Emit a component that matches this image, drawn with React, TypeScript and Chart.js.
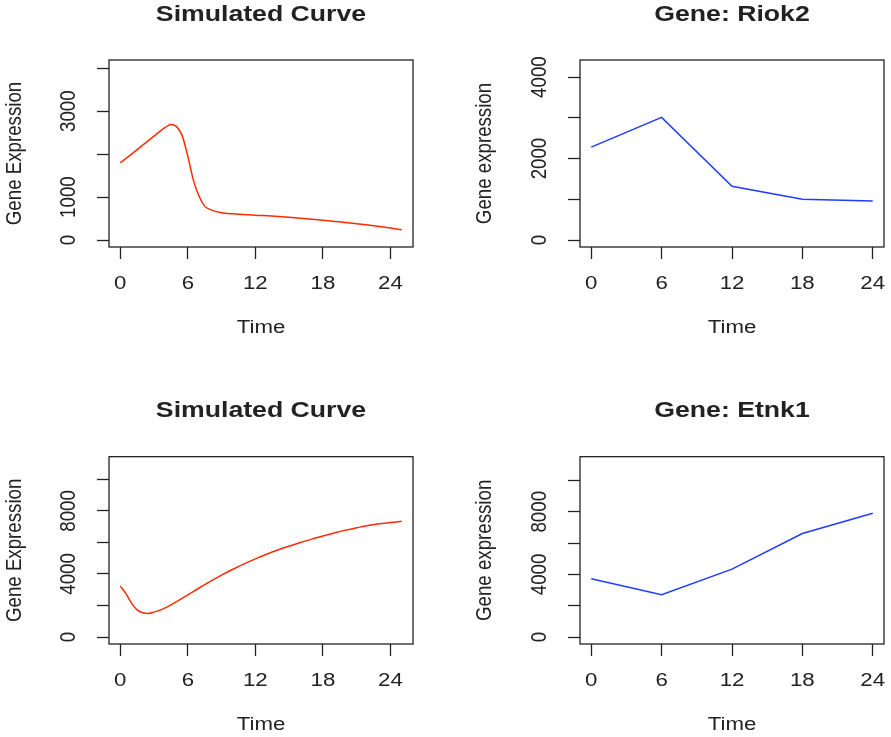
import React, { useEffect, useRef } from 'react';
import { Chart, registerables } from 'chart.js';

Chart.register(...registerables);

// ---------- data ----------
const simTime1 = [0, 1, 2, 3, 4, 4.5, 5, 5.5, 6, 6.5, 7, 7.5, 8, 9, 10, 12, 14, 16, 18, 20, 22, 24, 25];
const simExpr1 = [1800, 2000, 2210, 2420, 2620, 2690, 2640, 2430, 1950, 1390, 1020, 790, 710, 635, 610, 580, 550, 510, 460, 410, 350, 280, 240];

const riok2Time = [0, 6, 12, 18, 24];
const riok2Expr = [2280, 3010, 1320, 1000, 960];

const simTime2 = [0, 0.5, 1, 1.5, 2, 2.5, 3, 3.5, 4, 4.5, 5, 6, 7, 8, 9, 10, 11, 12, 13, 14, 15, 16, 17, 18, 19, 20, 21, 22, 23, 24, 25];
const simExpr2 = [3230, 2750, 2150, 1720, 1540, 1500, 1580, 1690, 1850, 2040, 2250, 2680, 3110, 3530, 3930, 4300, 4640, 4960, 5250, 5520, 5760, 5990, 6210, 6410, 6600, 6780, 6930, 7070, 7180, 7270, 7340];

const etnk1Time = [0, 6, 12, 18, 24];
const etnk1Expr = [3720, 2700, 4340, 6615, 7910];

const xTickValues = [0, 6, 12, 18, 24];
const xTickLabels = ['0', '6', '12', '18', '24'];

const yTicksSim1 = [0, 1000, 2000, 3000, 4000];
const yLabelsSim1 = ['0', '1000', '', '3000', ''];
const yTicksRiok2 = [0, 1000, 2000, 3000, 4000];
const yLabelsRiok2 = ['0', '', '2000', '', '4000'];
const yTicksSim2 = [0, 2000, 4000, 6000, 8000, 10000];
const yLabelsSim2 = ['0', '', '4000', '', '8000', ''];
const yTicksEtnk1 = [0, 2000, 4000, 6000, 8000, 10000];
const yLabelsEtnk1 = ['0', '', '4000', '', '8000', ''];

// ---------- style ----------
const FONT = '"Liberation Sans", Arial, Helvetica, sans-serif';
const BASE = 18.7;
const TITLE = 22.4;
const INK = '#222222';
const RED = '#ff2a00';
const BLUE = '#1f3cff';
const TEXT_STRETCH_X = 1.19; // the reference's glyphs are wider than tall

// Widen every glyph horizontally (in device space) about its anchor point.
function stretchCanvasText(ctx: any, sx: number) {
  const orig = ctx.fillText;
  ctx.fillText = function (text: string, x: number, y: number, maxWidth?: number) {
    const m = ctx.getTransform();
    const px = m.a * x + m.c * y + m.e;
    const py = m.b * x + m.d * y + m.f;
    ctx.save();
    const s = new DOMMatrix().translate(px, py).scale(sx, 1).translate(-px, -py).multiply(m);
    ctx.setTransform(s);
    if (maxWidth === undefined) orig.call(ctx, text, x, y);
    else orig.call(ctx, text, x, y, maxWidth);
    ctx.restore();
  };
}

const boxPlugin = {
  id: 'rbox',
  afterDraw(chart: any) {
    const { ctx, chartArea: a } = chart;
    ctx.save();
    ctx.strokeStyle = INK;
    ctx.lineWidth = 1.3;
    ctx.strokeRect(a.left, a.top, a.right - a.left, a.bottom - a.top);
    ctx.restore();
  },
};

type Spec = {
  left: number; top: number; w: number; h: number;
  title: string; yTitle: string;
  xs: number[]; ys: number[]; color: string; smooth: boolean;
  xMin: number; xMax: number; yMin: number; yMax: number;
  yTicks: number[]; yLabels: string[];
  yAxisWidth: number; padRight: number; xAxisHeight: number;
  titlePadTop: number; titlePadBottom: number;
  xTitlePadBottom: number; yTitlePadTop: number;
};

function Panel({ spec }: { spec: Spec }) {
  const ref = useRef<HTMLCanvasElement>(null);
  useEffect(() => {
    const canvas = ref.current as HTMLCanvasElement;
    const ctx = canvas.getContext('2d') as CanvasRenderingContext2D;
    stretchCanvasText(ctx, TEXT_STRETCH_X);
    const grid = {
      drawOnChartArea: false,
      drawTicks: true,
      tickLength: 12,
      tickColor: INK,
      tickWidth: 1.3,
    };
    const chart = new Chart(canvas, {
      type: 'line',
      data: {
        datasets: [
          {
            data: spec.xs.map((x, i) => ({ x, y: spec.ys[i] })),
            borderColor: spec.color,
            borderWidth: 1.5,
            pointRadius: 0,
            fill: false,
            tension: spec.smooth ? 0.4 : 0,
            cubicInterpolationMode: spec.smooth ? 'monotone' : 'default',
          } as any,
        ],
      },
      options: {
        responsive: false,
        animation: false,
        devicePixelRatio: 1,
        layout: { padding: { top: 0, left: 0, right: spec.padRight, bottom: 0 } },
        plugins: {
          legend: { display: false },
          tooltip: { enabled: false },
          title: {
            display: true,
            text: spec.title,
            fullSize: false,
            color: INK,
            font: { family: FONT, size: TITLE, weight: 'bold', lineHeight: 1.2 },
            padding: { top: spec.titlePadTop, bottom: spec.titlePadBottom },
          },
        },
        scales: {
          x: {
            type: 'linear',
            min: spec.xMin,
            max: spec.xMax,
            afterBuildTicks: (s: any) => {
              s.ticks = xTickValues.map((v) => ({ value: v }));
            },
            afterFit: (s: any) => {
              s.height = spec.xAxisHeight;
              s.paddingLeft = 0;
              s.paddingRight = 0;
            },
            ticks: {
              autoSkip: false,
              minRotation: 0,
              maxRotation: 0,
              padding: 13.6,
              color: INK,
              font: { family: FONT, size: BASE },
              callback: (_v: any, i: number) => xTickLabels[i],
            },
            grid,
            border: { display: false },
            title: {
              display: true,
              text: 'Time',
              color: INK,
              font: { family: FONT, size: BASE },
              padding: { top: 0, bottom: spec.xTitlePadBottom },
            },
          },
          y: {
            type: 'linear',
            min: spec.yMin,
            max: spec.yMax,
            afterBuildTicks: (s: any) => {
              s.ticks = spec.yTicks.map((v) => ({ value: v }));
            },
            afterFit: (s: any) => {
              s.width = spec.yAxisWidth;
              s.paddingTop = 0;
              s.paddingBottom = 0;
            },
            ticks: {
              autoSkip: false,
              minRotation: 90,
              maxRotation: 90,
              crossAlign: 'center',
              padding: 7.2,
              color: INK,
              font: { family: FONT, size: BASE },
              callback: (_v: any, i: number) => spec.yLabels[i],
            },
            grid,
            border: { display: false },
            title: {
              display: true,
              text: spec.yTitle,
              color: INK,
              font: { family: FONT, size: BASE },
              padding: { top: spec.yTitlePadTop, bottom: 0 },
            },
          },
        },
      } as any,
      plugins: [boxPlugin],
    });
    return () => chart.destroy();
  }, [spec]);
  return (
    <canvas
      ref={ref}
      width={spec.w}
      height={spec.h}
      style={{ position: 'absolute', left: spec.left, top: spec.top, width: spec.w, height: spec.h }}
    />
  );
}

const topCommon = {
  top: 0, h: 368, xAxisHeight: 121, titlePadTop: 1.0, titlePadBottom: 32.1, xTitlePadBottom: 29.1,
};
const bottomCommon = {
  top: 368, h: 369, xAxisHeight: 93, titlePadTop: 29.6, titlePadBottom: 32.2, xTitlePadBottom: 1.1,
};
const leftCommon = { left: 0, w: 445, yAxisWidth: 109, padRight: 32, yTitlePadTop: 3.4, xMin: -1, xMax: 26 };
const rightCommon = { left: 445, w: 446, yAxisWidth: 135, padRight: 7, yTitlePadTop: 28.6, xMin: -0.96, xMax: 24.96 };

const specs: Spec[] = [
  {
    ...topCommon, ...leftCommon,
    title: 'Simulated Curve', yTitle: 'Gene Expression',
    xs: simTime1, ys: simExpr1, color: RED, smooth: true,
    yMin: -161, yMax: 4190, yTicks: yTicksSim1, yLabels: yLabelsSim1,
  },
  {
    ...topCommon, ...rightCommon,
    title: 'Gene: Riok2', yTitle: 'Gene expression',
    xs: riok2Time, ys: riok2Expr, color: BLUE, smooth: false,
    yMin: -170, yMax: 4420, yTicks: yTicksRiok2, yLabels: yLabelsRiok2,
  },
  {
    ...bottomCommon, ...leftCommon,
    title: 'Simulated Curve', yTitle: 'Gene Expression',
    xs: simTime2, ys: simExpr2, color: RED, smooth: true,
    yMin: -440, yMax: 11437, yTicks: yTicksSim2, yLabels: yLabelsSim2,
  },
  {
    ...bottomCommon, ...rightCommon,
    title: 'Gene: Etnk1', yTitle: 'Gene expression',
    xs: etnk1Time, ys: etnk1Expr, color: BLUE, smooth: false,
    yMin: -443, yMax: 11517, yTicks: yTicksEtnk1, yLabels: yLabelsEtnk1,
  },
];

export default function App() {
  return (
    <div style={{ position: 'absolute', left: 0, top: 0, width: 891, height: 737, background: '#ffffff', overflow: 'hidden' }}>
      {specs.map((s, i) => (
        <Panel key={i} spec={s} />
      ))}
    </div>
  );
}
